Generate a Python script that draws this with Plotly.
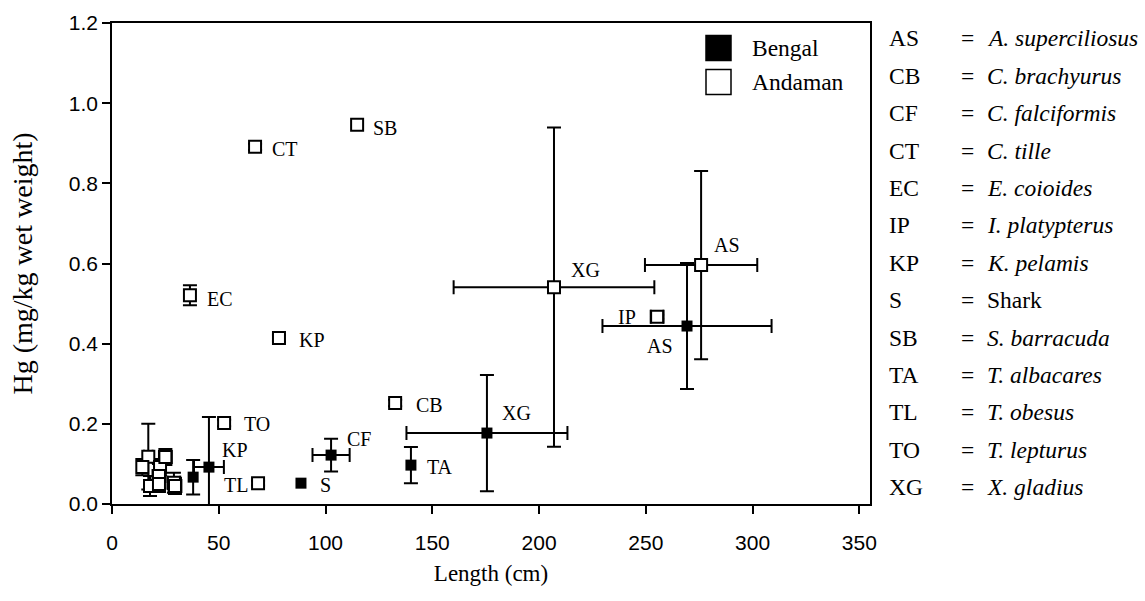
import numpy as np
import plotly.graph_objects as go

# ---------------- data ----------------
# Andaman (open squares); "" = unlabeled small fish in the cluster; None = no error bar
andaman_code = ["SB", "CT", "EC", "KP", "TO", "TL", "CB", "XG", "AS", "IP",
                "", "", "", "", "", "", "", "", ""]
andaman_len = [114.8, 67.0, 36.5, 78.2, 52.5, 68.4, 132.6, 207.0, 275.9, 255.3,
               17.0, 14.2, 22.5, 25.0, 22.0, 17.8, 22.0, 29.0, 29.5]
andaman_hg = [0.946, 0.891, 0.521, 0.414, 0.202, 0.052, 0.252, 0.541, 0.596, 0.467,
              0.118, 0.092, 0.092, 0.117, 0.070, 0.045, 0.050, 0.053, 0.045]
andaman_len_err = [None, None, None, None, None, None, None, 47.0, 26.3, 3.0,
                   2.0, 2.0, 2.5, 3.0, 3.0, 2.0, 2.0, 3.0, 3.0]
andaman_hg_err = [None, 0.008, 0.025, 0.008, 0.008, 0.006, 0.008, 0.398, 0.235, 0.005,
                  0.082, 0.02, 0.02, 0.02, 0.03, 0.025, 0.02, 0.025, 0.02]

# Bengal (filled squares)
bengal_code = ["AS", "XG", "TA", "CF", "S", "KP", ""]
bengal_len = [269.3, 175.6, 140.0, 102.6, 88.5, 45.4, 38.0]
bengal_hg = [0.444, 0.177, 0.097, 0.122, 0.052, 0.092, 0.067]
bengal_len_err = [39.6, 37.7, None, 8.7, None, 7.0, None]
bengal_hg_err = [0.157, 0.145, 0.045, 0.041, None, 0.125, 0.043]

x_ticks = [0, 50, 100, 150, 200, 250, 300, 350]
y_ticks = [0.0, 0.2, 0.4, 0.6, 0.8, 1.0, 1.2]

key_codes = ["AS", "CB", "CF", "CT", "EC", "IP", "KP", "S", "SB", "TA", "TL", "TO", "XG"]
key_names = ["<i>A. superciliosus</i>", "<i>C. brachyurus</i>", "<i>C. falciformis</i>",
             "<i>C. tille</i>", "<i>E. coioides</i>", "<i>I. platypterus</i>",
             "<i>K. pelamis</i>", "Shark", "<i>S. barracuda</i>", "<i>T. albacares</i>",
             "<i>T. obesus</i>", "<i>T. lepturus</i>", "<i>X. gladius</i>"]

# ---------------- styling ----------------
W, H = 1145, 601
ML, MR, MT, MB = 112, 275, 23, 97
PW, PH = W - ML - MR, H - MT - MB
SERIF = "Liberation Serif, Times New Roman, serif"
SANS = "Liberation Sans, Arial, sans-serif"

# label placement (pixel offsets): (xanchor, xshift, yshift)
andaman_lab = {"SB": ("left", 14, -3), "CT": ("left", 15, -2), "EC": ("left", 15, -4),
               "KP": ("left", 18, -2), "TO": ("left", 18, -1), "TL": ("right", -8, -2),
               "CB": ("left", 19, -2), "XG": ("left", 15, 17), "AS": ("left", 11, 20),
               "IP": ("right", -19, 0)}
bengal_lab = {"AS": ("center", -27, -20), "XG": ("left", 13, 20), "TA": ("left", 14, -2),
              "CF": ("left", 14, 16), "S": ("left", 17, -2), "KP": ("left", 11, 17)}


def px_x(px):
    return (px - ML) / PW


def px_y(py):
    return (H - MB - py) / PH


def err_arr(vals):
    # NaN entries -> no error bar drawn (typed array keeps NaN)
    return np.array([np.nan if v is None else v for v in vals], dtype=float)


fig = go.Figure()

err_style = dict(color="black", thickness=2, width=7)

fig.add_trace(go.Scatter(
    x=bengal_len, y=bengal_hg, mode="markers", name="Bengal",
    marker=dict(symbol="square", size=11, color="black", line=dict(color="black", width=0)),
    error_x=dict(type="data", array=err_arr(bengal_len_err), visible=True, **err_style),
    error_y=dict(type="data", array=err_arr(bengal_hg_err), visible=True, **err_style),
    showlegend=False, cliponaxis=True,
))
fig.add_trace(go.Scatter(
    x=andaman_len, y=andaman_hg, mode="markers", name="Andaman",
    marker=dict(symbol="square", size=12, color="white", line=dict(color="black", width=2)),
    error_x=dict(type="data", array=err_arr(andaman_len_err), visible=True, **err_style),
    error_y=dict(type="data", array=err_arr(andaman_hg_err), visible=True, **err_style),
    showlegend=False, cliponaxis=True,
))

annotations = []
lab_font = dict(family=SERIF, size=20, color="black")
for codes, xs, ys, lab in [(andaman_code, andaman_len, andaman_hg, andaman_lab),
                           (bengal_code, bengal_len, bengal_hg, bengal_lab)]:
    for c, xv, yv in zip(codes, xs, ys):
        if not c:
            continue
        xa, xs_, ys_ = lab[c]
        annotations.append(dict(x=xv, y=yv, xref="x", yref="y", text=c, showarrow=False,
                                xanchor=xa, yanchor="middle", xshift=xs_, yshift=ys_,
                                font=lab_font))

# key on the right
key_font = dict(family=SERIF, size=23.5, color="black")
for i, (c, n) in enumerate(zip(key_codes, key_names)):
    yp = px_y(38.3 + 37.4 * i)
    annotations.append(dict(x=px_x(887), y=yp, xref="paper", yref="paper", text=c,
                            showarrow=False, xanchor="left", yanchor="middle", font=key_font))
    annotations.append(dict(x=px_x(967), y=yp, xref="paper", yref="paper", text="=",
                            showarrow=False, xanchor="center", yanchor="middle", font=key_font))
    annotations.append(dict(x=px_x(985), y=yp, xref="paper", yref="paper", text=n,
                            showarrow=False, xanchor="left", yanchor="middle", font=key_font))

# legend (drawn manually to get the large symbols)
shapes = []
legend_items = [("Bengal", "black", 48), ("Andaman", "white", 82)]
for name, fill, cy in legend_items:
    shapes.append(dict(type="rect", xref="paper", yref="paper",
                       x0=px_x(706), x1=px_x(731), y0=px_y(cy + 12.5), y1=px_y(cy - 12.5),
                       fillcolor=fill, line=dict(color="black", width=1.5)))
    annotations.append(dict(x=px_x(750), y=px_y(cy), xref="paper", yref="paper", text=name,
                            showarrow=False, xanchor="left", yanchor="middle", font=key_font))

fig.update_layout(
    width=W, height=H,
    margin=dict(l=ML, r=MR, t=MT, b=MB, pad=0),
    paper_bgcolor="white", plot_bgcolor="white",
    showlegend=False,
    annotations=annotations, shapes=shapes,
    xaxis=dict(range=[0, 355], tickvals=x_ticks, ticktext=[str(v) for v in x_ticks],
               showgrid=False, zeroline=False, showline=True, linecolor="black", linewidth=1.5,
               mirror=True, ticks="outside", ticklen=8, tickwidth=1.5, tickcolor="black",
               tickfont=dict(family=SANS, size=21, color="black"), ticklabelstandoff=11,
               title=dict(text="Length (cm)", font=dict(family=SERIF, size=23, color="black"),
                          standoff=12)),
    yaxis=dict(range=[0, 1.2], tickvals=y_ticks, ticktext=[f"{v:.1f}" for v in y_ticks],
               showgrid=False, zeroline=False, showline=True, linecolor="black", linewidth=1.5,
               mirror=True, ticks="outside", ticklen=8, tickwidth=1.5, tickcolor="black",
               tickfont=dict(family=SANS, size=21, color="black"),
               title=dict(text="Hg (mg/kg wet weight)",
                          font=dict(family=SERIF, size=28, color="black"), standoff=28)),
)

fig.write_html("out.html")
